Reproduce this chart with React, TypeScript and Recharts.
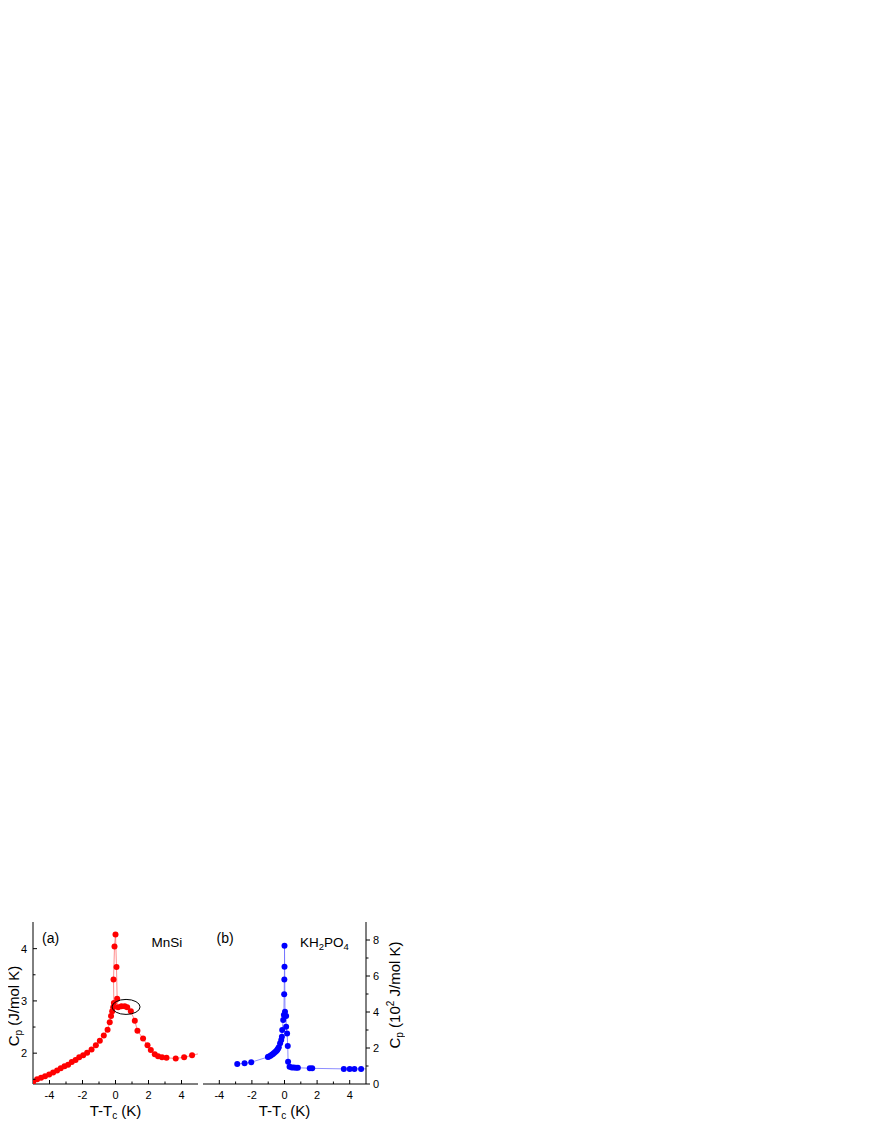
import React from 'react';
import { LineChart, Line, XAxis, YAxis, ReferenceDot, Label, Customized } from 'recharts';

// (a) MnSi, T-Tc (K) vs Cp (J/mol K)
const mnsiT = [
  -5.2, -4.99, -4.75, -4.51, -4.27, -4.02, -3.78, -3.54, -3.32, -3.09, -2.87, -2.65, -2.42, -2.2,
  -1.96, -1.72, -1.45, -1.19, -0.95, -0.71, -0.48, -0.35, -0.27, -0.2, -0.14, -0.1, -0.12, -0.06,
  0, 0.06, 0.1, 0.16, 0.36, 0.56, 0.71, 0.93, 1.17, 1.33, 1.67, 1.94, 2.14, 2.38, 2.58, 2.82, 3.09,
  3.65, 4.16, 4.64, 5.2,
];
const mnsiCp = [
  1.42, 1.45, 1.5, 1.53, 1.56, 1.59, 1.63, 1.67, 1.71, 1.75, 1.78, 1.83, 1.87, 1.92,
  1.96, 2.01, 2.07, 2.15, 2.24, 2.34, 2.45, 2.59, 2.71, 2.8, 2.88, 2.96, 3.41, 4.04,
  4.27, 3.65, 3.04, 2.88, 2.9, 2.9, 2.88, 2.8, 2.62, 2.43, 2.28, 2.15, 2.06, 1.98, 1.94, 1.92, 1.91,
  1.9, 1.92, 1.96, 2.0,
];

// (b) KH2PO4, T-Tc (K) vs Cp (10^2 J/mol K)
const kdpT = [
  -2.9, -2.45, -2.04, -1.02, -0.95, -0.86, -0.78, -0.71, -0.64, -0.57, -0.5, -0.45, -0.4, -0.35,
  -0.27, -0.2, -0.16, -0.14, -0.08, -0.04, -0.02, -0.01, 0, 0, 0.03, 0.1, 0.1, 0.16, 0.2, 0.22,
  0.31, 0.45, 0.57, 0.7, 0.82, 1.55, 1.7, 3.64, 4.0, 4.29, 4.7, 5.2,
];
const kdpCp = [
  1.11, 1.15, 1.21, 1.5, 1.53, 1.57, 1.62, 1.67, 1.72, 1.78, 1.84, 1.89, 1.96, 2.04,
  2.26, 2.44, 2.63, 3.0, 3.56, 3.83, 4.98, 5.81, 6.52, 7.68, 4.02, 3.78, 3.18, 2.8, 2.11, 1.24,
  0.96, 0.92, 0.91, 0.9, 0.9, 0.88, 0.87, 0.84, 0.84, 0.84, 0.84, 0.84,
];

const xTicks = [-4, -3, -2, -1, 0, 1, 2, 3, 4];
const yTicksA = [1.5, 2, 2.5, 3, 3.5, 4];
const yTicksB = [0, 1, 2, 3, 4, 5, 6, 7, 8];

const dataA = mnsiT.map((t, i) => ({ t, cp: mnsiCp[i] }));
const dataB = kdpT.map((t, i) => ({ t, cp: kdpCp[i] }));

const FONT = '"Liberation Sans", Arial, sans-serif';

const XTick = (props: any) => {
  const { x, y, payload } = props;
  const major = payload.value % 2 === 0;
  return (
    <g>
      <line x1={x} y1={y} x2={x} y2={y - (major ? 4 : 2.5)} stroke="#000" strokeWidth={1} />
      {major && (
        <text x={x} y={y + 15} textAnchor="middle" fontSize={11} fontFamily={FONT} fill="#000">
          {payload.value}
        </text>
      )}
    </g>
  );
};

const YTickLeft = (props: any) => {
  const { x, y, payload } = props;
  const major = Number.isInteger(payload.value);
  return (
    <g>
      <line x1={x} y1={y} x2={x + (major ? 4 : 2.5)} y2={y} stroke="#000" strokeWidth={1} />
      {major && (
        <text x={x - 6} y={y + 4} textAnchor="end" fontSize={11} fontFamily={FONT} fill="#000">
          {payload.value}
        </text>
      )}
    </g>
  );
};

const YTickRight = (props: any) => {
  const { x, y, payload } = props;
  const major = payload.value % 2 === 0;
  return (
    <g>
      <line x1={x} y1={y} x2={x + (major ? 4 : 2.5)} y2={y} stroke="#000" strokeWidth={1} />
      {major && (
        <text x={x + 7} y={y + 4} textAnchor="start" fontSize={11} fontFamily={FONT} fill="#000">
          {payload.value}
        </text>
      )}
    </g>
  );
};

const XLabel = (props: any) => {
  const { viewBox } = props;
  return (
    <text x={viewBox.x + viewBox.width / 2} y={viewBox.y + 32} textAnchor="middle" fontSize={15} fontFamily={FONT} fill="#000">
      T-T<tspan dy={3} fontSize={10}>c</tspan>
      <tspan dy={-3}> (K)</tspan>
    </text>
  );
};

const Ellipse = (props: any) => (
  <ellipse cx={props.cx} cy={props.cy} rx={14} ry={7.5} fill="none" stroke="#000" strokeWidth={1} />
);

const TextA = () => (
  <g fontFamily={FONT} fill="#000">
    <text x={42} y={43} fontSize={14}>(a)</text>
    <text x={151.5} y={47} fontSize={13.5}>MnSi</text>
    <text transform="rotate(-90, 19, 106)" x={19} y={106} textAnchor="middle" fontSize={15}>
      C<tspan dy={3} fontSize={10}>p</tspan>
      <tspan dy={-3}> (J/mol K)</tspan>
    </text>
  </g>
);

const TextB = () => (
  <g fontFamily={FONT} fill="#000">
    <text x={16.5} y={43} fontSize={14}>(b)</text>
    <text x={100} y={46.5} fontSize={13.5}>
      KH<tspan dy={3} fontSize={9.5}>2</tspan>
      <tspan dy={-3}>PO</tspan>
      <tspan dy={3} fontSize={9.5}>4</tspan>
    </text>
    <text transform="rotate(-90, 200, 95)" x={200} y={95} textAnchor="middle" fontSize={15}>
      C<tspan dy={3} fontSize={10}>p</tspan>
      <tspan dy={-3}> (10</tspan>
      <tspan dy={-6} fontSize={10}>2</tspan>
      <tspan dy={6}> J/mol K)</tspan>
    </text>
  </g>
);

export default function App() {
  return (
    <div style={{ position: 'relative', width: 856, height: 1112, fontFamily: FONT }}>
      <div style={{ position: 'absolute', left: -8, top: 892 }}>
        <LineChart width={205} height={220} data={dataA} margin={{ top: 22, right: 7, bottom: 6, left: 0 }}>
          <XAxis
            dataKey="t"
            type="number"
            domain={[-5, 5]}
            allowDataOverflow
            ticks={xTicks}
            interval={0}
            tickSize={0}
            tickMargin={0}
            tickLine={false}
            tick={<XTick />}
            height={30}
            axisLine={{ stroke: '#000' }}
          >
            <Label content={<XLabel />} />
          </XAxis>
          <YAxis
            type="number"
            domain={[1.41, 4.51]}
            allowDataOverflow
            ticks={yTicksA}
            interval={0}
            tickSize={0}
            tickMargin={0}
            tickLine={false}
            tick={<YTickLeft />}
            width={33}
            axisLine={{ stroke: '#000' }}
          />
          <Line
            dataKey="cp"
            stroke="#ff7070"
            strokeWidth={0.8}
            dot={{ r: 3, fill: '#ff0000', stroke: '#ff0000', strokeWidth: 0 }}
            isAnimationActive={false}
          />
          <ReferenceDot x={0.64} y={2.885} shape={<Ellipse />} />
          <Customized component={TextA} />
        </LineChart>
      </div>
      <div style={{ position: 'absolute', left: 192, top: 892 }}>
        <LineChart width={205} height={220} data={dataB} margin={{ top: 22, right: 0, bottom: 6, left: 3 }}>
          <XAxis
            dataKey="t"
            type="number"
            domain={[-5, 5]}
            allowDataOverflow
            ticks={xTicks}
            interval={0}
            tickSize={0}
            tickMargin={0}
            tickLine={false}
            tick={<XTick />}
            height={30}
            axisLine={{ stroke: '#000' }}
          >
            <Label content={<XLabel />} />
          </XAxis>
          <YAxis
            yAxisId="l"
            orientation="left"
            type="number"
            domain={[0, 9]}
            width={0}
            tick={false}
            tickLine={false}
            axisLine={{ stroke: '#000' }}
          />
          <YAxis
            yAxisId="r"
            orientation="right"
            type="number"
            domain={[0, 9]}
            allowDataOverflow
            ticks={yTicksB}
            interval={0}
            tickSize={0}
            tickMargin={0}
            tickLine={false}
            tick={<YTickRight />}
            width={39}
            axisLine={{ stroke: '#000' }}
          />
          <Line
            yAxisId="r"
            dataKey="cp"
            stroke="#7070ff"
            strokeWidth={0.8}
            dot={{ r: 3, fill: '#0000ff', stroke: '#0000ff', strokeWidth: 0 }}
            isAnimationActive={false}
          />
          <Customized component={TextB} />
        </LineChart>
      </div>
    </div>
  );
}
